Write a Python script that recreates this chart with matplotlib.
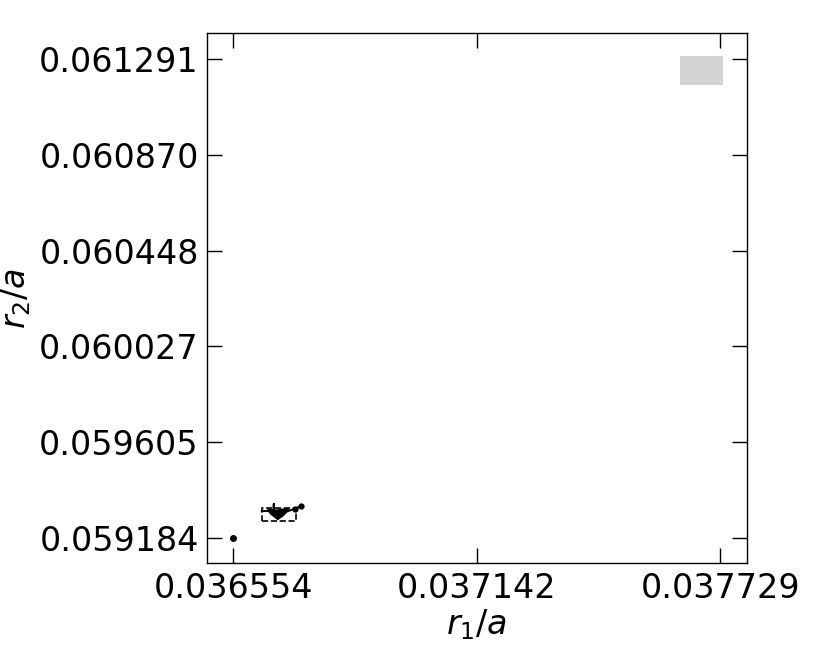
import matplotlib.pyplot as plt
from matplotlib.patches import Rectangle

# === DATA ===
x_ticks = [0.036554, 0.037142, 0.037729]
y_ticks = [0.059184, 0.059605, 0.060027, 0.060448, 0.060870, 0.061291]
x_lim = (0.0364907, 0.0377940)
y_lim = (0.0590713, 0.0614055)

# trajectory of r1/a, r2/a
traj_r1 = [0.0366231, 0.0366424, 0.0366520, 0.0366520, 0.0366520,
           0.0366664, 0.0366857, 0.0367026, 0.0367170]
traj_r2 = [0.0593016, 0.0593016, 0.0593016, 0.0593324, 0.0593016,
           0.0592972, 0.0593016, 0.0593104, 0.0593236]
# last two states are marked
end_r1 = [0.0367026, 0.0367170]
end_r2 = [0.0593104, 0.0593236]

# filled blob where the trajectory piles up
blob_r1 = [0.0366376, 0.0366544, 0.0366737, 0.0366881, 0.0366737,
           0.0366616, 0.0366448]
blob_r2 = [0.0593080, 0.0593030, 0.0593080, 0.0593080, 0.0592820,
           0.0592663, 0.0592900]

# single starting point
start_r1 = [0.036554]
start_r2 = [0.059184]

# dashed box around the cluster
box_r1 = (0.0366238, 0.0367043)
box_r2 = (0.0592575, 0.0593161)

# grey reference box, top right
grey_r1 = (0.0376320, 0.0377353)
grey_r2 = (0.0611778, 0.0613050)

# === PLOT ===
fig = plt.figure(figsize=(8.3, 6.64), dpi=100)
ax = fig.add_axes([0.2494, 0.1517, 0.9 - 0.2494, 0.9498 - 0.1517])

ax.add_patch(Rectangle((grey_r1[0], grey_r2[0]), grey_r1[1] - grey_r1[0],
                       grey_r2[1] - grey_r2[0], facecolor='lightgrey',
                       edgecolor='none'))

ax.plot(traj_r1, traj_r2, color='black', linewidth=1.5)
ax.fill(blob_r1, blob_r2, color='black', linewidth=1.5)
ax.plot(end_r1, end_r2, 'o', color='black', markersize=3.5)
ax.plot(start_r1, start_r2, 'o', color='black', markersize=4)

ax.add_patch(Rectangle((box_r1[0], box_r2[0]), box_r1[1] - box_r1[0],
                       box_r2[1] - box_r2[0], facecolor='none',
                       edgecolor='black', linestyle='--', linewidth=1.2))

ax.set_xlim(*x_lim)
ax.set_ylim(*y_lim)
ax.set_xticks(x_ticks)
ax.set_xticklabels([f"{v:.6f}" for v in x_ticks])
ax.set_yticks(y_ticks)
ax.set_yticklabels([f"{v:.6f}" for v in y_ticks])
ax.tick_params(direction='in', length=11, width=1.0, top=True, right=True,
               labelsize=24, pad=6)
for s in ax.spines.values():
    s.set_linewidth(1.0)

ax.set_xlabel(r"$r_1/a$", fontsize=24, labelpad=2)
ax.set_ylabel(r"$r_2/a$", fontsize=24, labelpad=4)

fig.savefig("out.png", dpi=100)
